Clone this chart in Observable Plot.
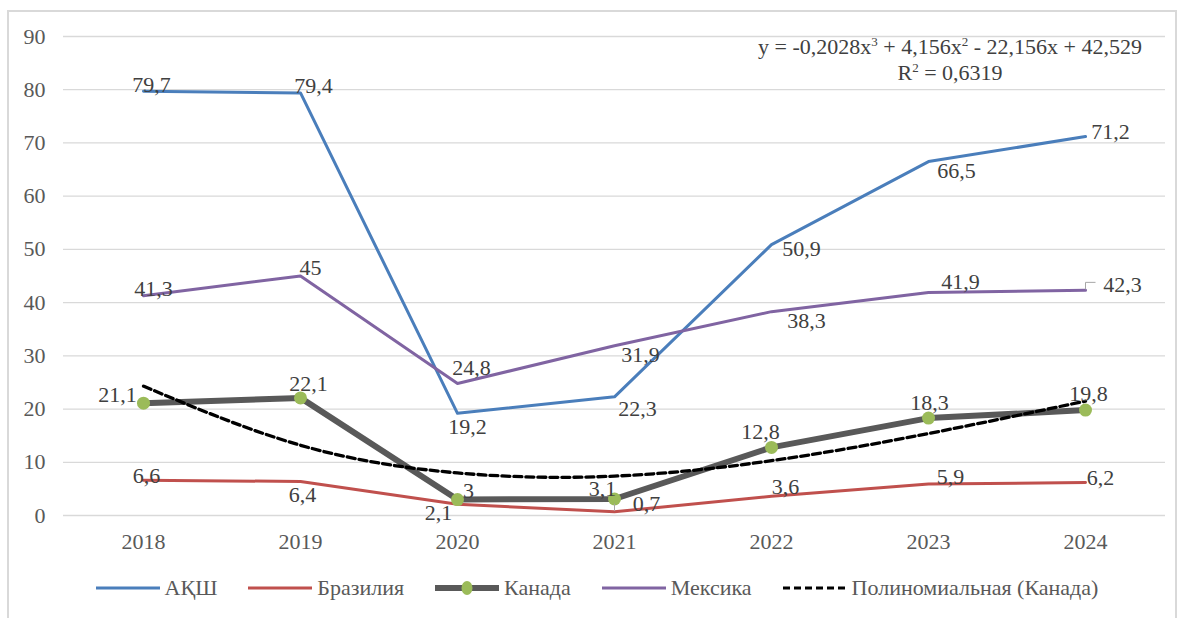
<!DOCTYPE html>
<html>
<head>
<meta charset="utf-8">
<script src="https://cdn.jsdelivr.net/npm/d3@7"></script>
<script src="https://cdn.jsdelivr.net/npm/@observablehq/plot@0.6"></script>
<style>
  html, body { margin: 0; padding: 0; background: #fff; }
  body { width: 1182px; height: 618px; position: relative; overflow: hidden; font-family: 'Liberation Serif', 'Times New Roman', Times, serif; }
  #frame { position: absolute; left: 7px; top: 10px; width: 1170px; height: 620px; border: 2px solid #d9d9d9; box-sizing: border-box; }
  #chart { position: absolute; left: 0; top: 0; }
  #eq { position: absolute; left: 750px; width: 400px; top: 34px; text-align: center; font-size: 22px; line-height: 26px; color: #404040; }
  #eq sup { font-size: 13px; line-height: 0; vertical-align: 0; position: relative; top: -8px; }
  #legend { position: absolute; left: 6px; width: 1182px; top: 575px; display: flex; justify-content: center; align-items: center; font-size: 22px; color: #595959; }
  .item { display: flex; align-items: center; margin: 0 15.5px; }
  .item svg { margin-right: 5px; }
</style>
</head>
<body>
<div id="frame"></div>
<div id="chart"></div>
<div id="eq">y = -0,2028x<sup>3</sup> + 4,156x<sup>2</sup> - 22,156x + 42,529<br>R<sup>2</sup> = 0,6319</div>
<div id="legend"></div>
<script>
// ---- data ----
const years = ["2018", "2019", "2020", "2021", "2022", "2023", "2024"];
const usa    = [79.7, 79.4, 19.2, 22.3, 50.9, 66.5, 71.2];
const brazil = [6.6, 6.4, 2.1, 0.7, 3.6, 5.9, 6.2];
const canada = [21.1, 22.1, 3, 3.1, 12.8, 18.3, 19.8];
const mexico = [41.3, 45, 24.8, 31.9, 38.3, 41.9, 42.3];
const trendCanada = [24.3, 13.2, 8.0, 7.4, 10.3, 15.4, 21.5];
const yTicks = [0, 10, 20, 30, 40, 50, 60, 70, 80, 90];
const seriesNames = ["АҚШ", "Бразилия", "Канада", "Мексика", "Полиномиальная (Канада)"];

// ---- styles / label placement (pixel offsets of data labels) ----
const colors = { "АҚШ": "#4a7ebb", "Бразилия": "#c0504d", "Канада": "#595959", "Мексика": "#8064a2", "Полиномиальная (Канада)": "#000000" };
const labelOffsets = {
  "АҚШ":      [[8,-6],[13,-7],[10,14],[23,12],[30,4],[28,9],[25,-5]],
  "Бразилия": [[3,-4],[2,14],[-19,9],[32,-8],[14,-9],[22,-7],[15,-5]],
  "Канада":   [[-26,-8],[8,-14],[11,-9],[-12,-10],[-11,-15],[1,-15],[3,-16]],
  "Мексика":  [[10,-7],[10,-8],[14,-16],[26,9],[35,9],[32,-11],[37,-5]]
};
const FONT = "'Liberation Serif', 'Times New Roman', Times, serif";

const fmt = v => String(v).replace(".", ",");
const toRows = (name, vals) => years.map((yr, i) => ({ series: name, year: yr, value: vals[i], i }));
const rows = {
  "АҚШ": toRows("АҚШ", usa),
  "Бразилия": toRows("Бразилия", brazil),
  "Канада": toRows("Канада", canada),
  "Мексика": toRows("Мексика", mexico)
};
const trendRows = toRows("Полиномиальная (Канада)", trendCanada);

const labelMarks = [];
for (const name of ["АҚШ", "Бразилия", "Канада", "Мексика"]) {
  rows[name].forEach((d, i) => {
    const [dx, dy] = labelOffsets[name][i];
    labelMarks.push(Plot.text([d], { x: "year", y: "value", text: r => fmt(r.value), dx, dy, fill: "#404040", fontSize: 22 }));
  });
}

// leader-line symbols for the displaced labels (0,7 and 42,3)
const leaderUp = { draw(ctx) { ctx.moveTo(0, -1); ctx.lineTo(0, -8); } };
const leaderHook = { draw(ctx) { ctx.moveTo(0, -1); ctx.lineTo(0, -8); ctx.lineTo(10, -8); } };

const chart = Plot.plot({
  width: 1182,
  height: 560,
  marginLeft: 63,
  marginRight: 17,
  marginTop: 36,
  marginBottom: 45,
  style: { fontFamily: FONT, fontSize: "22px", background: "transparent", overflow: "visible" },
  x: { type: "point", domain: years, padding: 0.5, label: null },
  y: { domain: [0, 90], label: null },
  marks: [
    Plot.gridY(yTicks, { stroke: "#d9d9d9", strokeOpacity: 1, strokeWidth: 1.3 }),
    Plot.axisY({ ticks: yTicks, tickSize: 0, tickPadding: 18, fill: "#595959", fontSize: 22, label: null }),
    Plot.axisX({ tickSize: 0, tickPadding: 18, fill: "#595959", fontSize: 22, label: null }),
    Plot.line(rows["АҚШ"], { x: "year", y: "value", stroke: colors["АҚШ"], strokeWidth: 3 }),
    Plot.line(rows["Бразилия"], { x: "year", y: "value", stroke: colors["Бразилия"], strokeWidth: 3 }),
    Plot.line(rows["Канада"], { x: "year", y: "value", stroke: colors["Канада"], strokeWidth: 6 }),
    Plot.line(rows["Мексика"], { x: "year", y: "value", stroke: colors["Мексика"], strokeWidth: 3 }),
    Plot.line(trendRows, { x: "year", y: "value", stroke: "#000", strokeWidth: 3.3, strokeDasharray: "8,4", curve: "natural" }),
    Plot.dot(rows["Канада"], { x: "year", y: "value", r: 6.5, fill: "#9bbb59", stroke: "none" }),
    Plot.dot([rows["Бразилия"][3]], { x: "year", y: "value", symbol: leaderUp, r: 3, fill: "none", stroke: "#a6a6a6", strokeWidth: 1 }),
    Plot.dot([rows["Мексика"][6]], { x: "year", y: "value", symbol: leaderHook, r: 3, fill: "none", stroke: "#a6a6a6", strokeWidth: 1 }),
    ...labelMarks
  ]
});
document.getElementById("chart").appendChild(chart);

// ---- legend ----
const legend = document.getElementById("legend");
for (const name of seriesNames) {
  const item = document.createElement("div");
  item.className = "item";
  let sw;
  if (name === "Канада") {
    sw = `<svg width="64" height="16"><line x1="0" y1="8" x2="64" y2="8" stroke="${colors[name]}" stroke-width="6"/><ellipse cx="32" cy="8" rx="5.5" ry="7" fill="#9bbb59"/></svg>`;
  } else if (name === "Полиномиальная (Канада)") {
    sw = `<svg width="64" height="16"><line x1="0" y1="8" x2="64" y2="8" stroke="#000" stroke-width="3" stroke-dasharray="7,4"/></svg>`;
  } else {
    sw = `<svg width="64" height="16"><line x1="0" y1="8" x2="64" y2="8" stroke="${colors[name]}" stroke-width="3"/></svg>`;
  }
  item.innerHTML = sw + `<span>${name}</span>`;
  legend.appendChild(item);
}
</script>
</body>
</html>
